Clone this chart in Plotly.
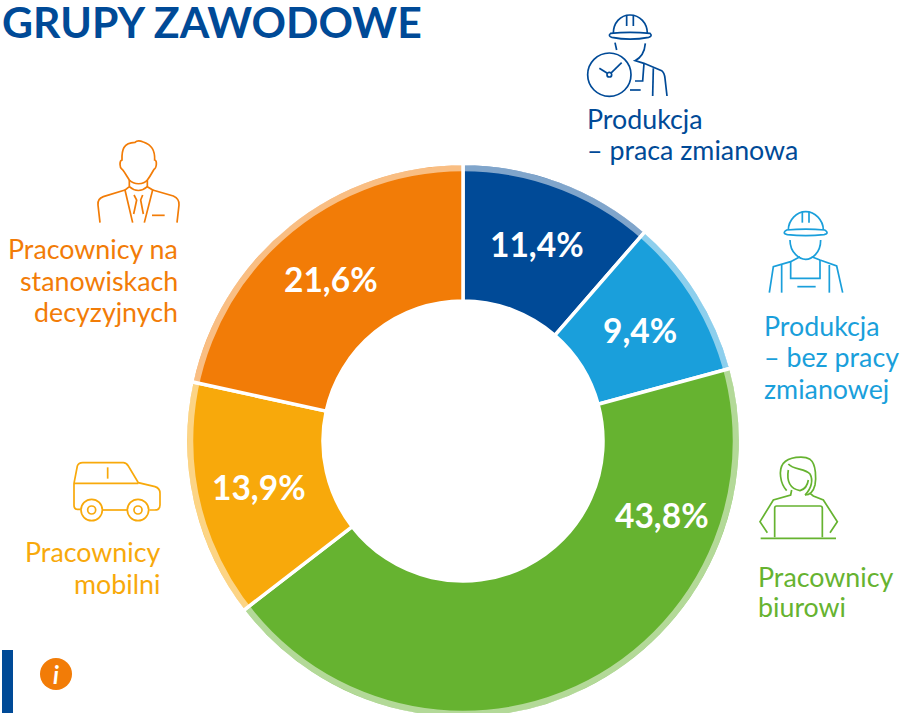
import re
import plotly.graph_objects as go

W, H = 901, 760
categories = ["Produkcja – praca zmianowa", "Produkcja – bez pracy zmianowej", "Pracownicy biurowi", "Pracownicy mobilni", "Pracownicy na stanowiskach decyzyjnych"]
values = [11.4, 9.4, 43.8, 13.9, 21.6]
value_labels = ["11,4%", "9,4%", "43,8%", "13,9%", "21,6%"]
colors = ["#004A97", "#1A9FDB", "#66B330", "#F8A90B", "#F27C07"]
TITLE = "GRUPY ZAWODOWE"
FONT = "Lato"
CX, CY, R, R_HOLE, BAND = 463, 441, 277.5, 140, 6

def px(x): return x / W
def py(y): return 1 - y / H

def conv(path, x0, y0, s=3):
    toks = re.findall(r"[MLCZ]|-?[\d.]+", path)
    out, isx = [], True
    for t in toks:
        if t in "MLCZ":
            out.append(t); isx = True
        else:
            v = float(t)
            out.append(f"{px(x0 + v / s):.5f}" if isx else f"{py(y0 + v / s):.5f}")
            isx = not isx
    res, i = "", 0
    for t in out:
        if t in "MLCZ":
            res += t
            i = 0
        else:
            res += t + ("," if i % 2 == 0 else " ")
            i += 1
    return res

shapes = []
def path(p, col, x0, y0, w=1.7):
    shapes.append(dict(type="path", path=conv(p, x0, y0), xref="paper", yref="paper",
                       line=dict(color=col, width=w), fillcolor="rgba(0,0,0,0)"))
def circle(cx, cy, r, col, w=1.7, fill="rgba(0,0,0,0)"):
    shapes.append(dict(type="circle", xref="paper", yref="paper", x0=px(cx - r), x1=px(cx + r),
                       y0=py(cy + r), y1=py(cy - r), line=dict(color=col, width=w), fillcolor=fill))
def zcircle(cx, cy, r, col, x0, y0, w=1.7):
    circle(x0 + cx / 3, y0 + cy / 3, r / 3, col, w)

# pale outer band: translucent white ring keeps white separators white
circle(CX, CY, R - 1.75 - BAND / 2, "rgba(255,255,255,0.5)", BAND)

# title bar + info badge
shapes.append(dict(type="rect", xref="paper", yref="paper", x0=px(2), x1=px(13), y0=py(720), y1=py(650),
                   line=dict(width=0), fillcolor="#004A97"))
circle(56, 674, 16, "#F27C07", 0, "#F27C07")

# icon 1: worker with clock
c = colors[0]; zx, zy = 570, 0
for p in ["M130 100 C130 70 150 45 180 45 C210 45 232 70 232 100",
          "M122 100 C115 105 118 110 126 112 C160 119 200 119 236 112 C244 110 246 105 240 100 C200 96 160 96 122 100 Z",
          "M170 45 L170 78", "M190 45 L190 78", "M135 128 L140 150",
          "M226 130 C224 155 215 172 195 182 L222 190 L275 212 C283 218 284 225 285 235 L291 288",
          "M248 288 L250 205", "M195 243 L218 243 L222 190", "M180 270 L212 270",
          "M88 205 L112 220", "M155 188 L122 220"]:
    path(p, c, zx, zy)
zcircle(118, 224, 65, c, zx, zy); zcircle(118, 224, 7, c, zx, zy)

# icon 2: worker
c = colors[1]
for p in ["M655 690 C655 660 680 635 707 635 C735 635 760 660 760 690",
          "M650 690 C640 695 640 702 652 704 C690 708 725 708 762 704 C774 702 774 695 764 690 C725 686 690 686 650 690 Z",
          "M697 635 L697 668", "M717 635 L717 668",
          "M660 720 C660 760 690 778 707 778 C725 778 752 760 752 720",
          "M690 770 L662 785 L610 800 L598 878", "M635 878 L635 795",
          "M662 785 L662 835 L750 835 L750 780", "M725 770 L750 780 L800 798 L818 878",
          "M778 878 L778 795", "M682 860 L737 860"]:
    path(p, c, zx, zy)

# icon 3: manager
c = colors[4]; zx, zy = 60, 130
for p in ["M208 150 C195 130 190 120 186 118 C178 112 178 92 186 90 C185 60 190 38 225 37 C232 30 240 32 250 36 C275 45 285 60 284 90 C292 90 290 115 282 118 C278 125 270 140 262 150 C250 165 222 165 208 150 Z",
          "M208 150 L208 170 L195 180 L218 278", "M262 150 L262 170 L278 180 L253 278",
          "M208 170 C225 185 245 185 262 170",
          "M195 180 L130 200 C115 205 113 215 114 225 L120 278",
          "M278 180 L340 198 C355 205 358 215 357 225 L351 278",
          "M222 195 L230 210 L221 252", "M248 195 L242 210 L250 252", "M276 256 L314 256"]:
    path(p, c, zx, zy)

# icon 4: car
c = colors[3]; zx, zy = 60, 450
for p in ["M62 178 L52 178 C45 178 42 172 42 165 L42 100 L52 48 C55 40 60 38 68 38 L190 38 C198 38 200 40 205 48 L235 98 L285 110 C298 114 300 122 300 130 L300 165 C300 175 295 180 285 180 L268 180",
          "M128 180 L202 180", "M42 100 L235 100", "M143 52 L143 86"]:
    path(p, c, zx, zy)
for cx in (95, 234):
    zcircle(cx, 180, 32, c, zx, zy); zcircle(cx, 180, 12, c, zx, zy)

# icon 5: office worker
c = colors[2]; zx, zy = 750, 450
for p in ["M110 122 C90 100 85 60 100 40 C115 22 160 15 180 28 C200 42 198 90 195 105 C190 125 178 135 165 135",
          "M115 42 C130 60 165 55 180 72 C190 90 185 115 165 135",
          "M115 60 C110 90 115 115 150 122 C165 118 172 110 175 90",
          "M125 120 L122 135 L70 150 L30 215 L52 248", "M180 130 L190 138 L220 150 L262 215 L240 248",
          "M74 262 L74 175 C74 170 76 168 80 168 L210 168 C215 168 217 170 217 175 L217 262",
          "M32 265 L258 265"]:
    path(p, c, zx, zy)

ann = []
def text(s, x, y, col, size=26.8, anchor="left", bold=False, pad=1):
    ann.append(dict(text=f"<b>{s}</b>" if bold else s, x=px(x), y=py(y), xref="paper", yref="paper",
                    xanchor=anchor, yanchor="middle", showarrow=False, borderpad=pad,
                    font=dict(family=FONT, size=size, color=col)))

text(TITLE, 1, 21, colors[0], 42.7, bold=True, pad=0)
for s, y in (("Produkcja", 119), ("– praca zmianowa", 150)):
    text(s, 585, y, colors[0])
for s, y in (("Produkcja", 326), ("– bez pracy", 357), ("zmianowej", 389)):
    text(s, 762, y, colors[1])
for s, y in (("Pracownicy", 577), ("biurowi", 607)):
    text(s, 756, y, colors[2])
for s, y in (("Pracownicy", 552), ("mobilni", 584)):
    text(s, 162, y, colors[3], anchor="right")
for s, y in (("Pracownicy na", 249), ("stanowiskach", 281), ("decyzyjnych", 312)):
    text(s, 180, y, colors[4], anchor="right")
for s, (x, y) in zip(value_labels, ((537, 244), (640, 330), (662, 515), (259, 487), (331, 279))):
    text(s, x, y, "white", 33.5, anchor="center", bold=True)
text("<i>i</i>", 56, 674, "white", 24, anchor="center", bold=True)

fig = go.Figure(go.Pie(
    labels=categories, values=values, sort=False, direction="clockwise", rotation=0,
    hole=R_HOLE / R, marker=dict(colors=colors, line=dict(color="white", width=3.5)),
    textinfo="none",
    domain=dict(x=[px(CX - R), px(CX + R)], y=[py(CY + R), py(CY - R)]),
    showlegend=False, hoverinfo="skip"))
fig.update_layout(width=W, height=H, margin=dict(l=0, r=0, t=0, b=0), paper_bgcolor="white",
                  showlegend=False, shapes=shapes, annotations=ann)
fig.write_html("out.html", config=dict(displayModeBar=False),
               post_script="document.documentElement.style.overflow='hidden';document.body.style.overflow='hidden';document.body.style.margin='0';")
